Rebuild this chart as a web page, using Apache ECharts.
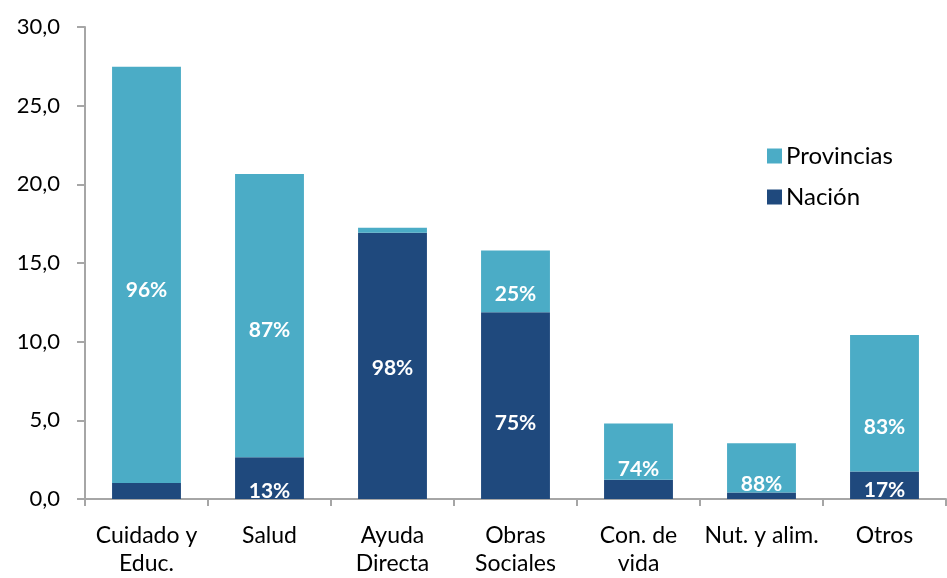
<!DOCTYPE html>
<html>
<head>
<meta charset="utf-8">
<script src="https://cdn.jsdelivr.net/npm/echarts@6/dist/echarts.min.js"></script>
<style>
  html, body { margin: 0; padding: 0; background: #fff; }
  #chart { width: 947px; height: 578px; }
</style>
</head>
<body>
<div id="chart"></div>
<script>
// datos
var categorias = ['Cuidado y\nEduc.', 'Salud', 'Ayuda\nDirecta', 'Obras\nSociales', 'Con. de\nvida', 'Nut. y alim.', 'Otros'];
var nacion = [1.02, 2.65, 16.93, 11.87, 1.23, 0.41, 1.75];
var provincias = [26.45, 18.0, 0.31, 3.92, 3.57, 3.13, 8.67];
var pctNacion = [null, '13%', '98%', '75%', null, null, '17%'];
var pctProvincias = ['96%', '87%', null, '25%', '74%', '88%', '83%'];
var ticksY = [0, 5, 10, 15, 20, 25, 30];

// ajuste vertical de las etiquetas (px), como quedaron en el original
var offNacion = [0, 13, 2, 18, 0, 0, 5];
var offProvincias = [15, 15, 0, 13, 18, 16, 24];

var fuente = 'Lato, "Open Sans", sans-serif';

function etiquetas(valores, pct, off) {
    return valores.map(function (v, i) {
        return {
            value: v,
            label: {
                show: pct[i] !== null,
                formatter: pct[i] || '',
                offset: [0, off[i]]
            }
        };
    });
}

var chart = echarts.init(document.getElementById('chart'));

chart.setOption({
    animation: false,
    grid: { left: 85, right: 1, top: 27, bottom: 76, containLabel: false },
    legend: {
        orient: 'vertical',
        left: 762,
        top: 139,
        icon: 'rect',
        itemWidth: 15,
        itemHeight: 15,
        itemGap: 17,
        data: ['Provincias', 'Nación'],
        textStyle: { fontFamily: fuente, fontSize: 24, color: '#000', padding: [0, 0, 0, -1] }
    },
    xAxis: {
        type: 'category',
        data: categorias,
        axisLine: { lineStyle: { color: '#a6a6a6', width: 2 } },
        axisTick: { show: true, length: 7, lineStyle: { color: '#a6a6a6', width: 2 } },
        axisLabel: {
            fontFamily: fuente, fontSize: 23, color: '#000',
            margin: 23, lineHeight: 28, interval: 0
        }
    },
    yAxis: {
        type: 'value',
        min: ticksY[0],
        max: ticksY[ticksY.length - 1],
        interval: 5,
        splitLine: { show: false },
        axisLine: { show: true, lineStyle: { color: '#a6a6a6', width: 2 } },
        axisTick: { show: true, length: 8, lineStyle: { color: '#a6a6a6', width: 2 } },
        axisLabel: {
            fontFamily: fuente, fontSize: 22, color: '#000', margin: 25,
            formatter: function (v) { return v.toFixed(1).replace('.', ','); }
        }
    },
    series: [
        {
            name: 'Nación',
            type: 'bar',
            stack: 'total',
            barWidth: '56%',
            itemStyle: { color: '#1f497d' },
            label: {
                position: 'inside',
                color: '#fff',
                fontFamily: fuente,
                fontWeight: 'bold',
                fontSize: 21
            },
            data: etiquetas(nacion, pctNacion, offNacion)
        },
        {
            name: 'Provincias',
            type: 'bar',
            stack: 'total',
            barWidth: '56%',
            itemStyle: { color: '#4bacc6' },
            label: {
                position: 'inside',
                color: '#fff',
                fontFamily: fuente,
                fontWeight: 'bold',
                fontSize: 21
            },
            data: etiquetas(provincias, pctProvincias, offProvincias)
        }
    ]
});
</script>
</body>
</html>
